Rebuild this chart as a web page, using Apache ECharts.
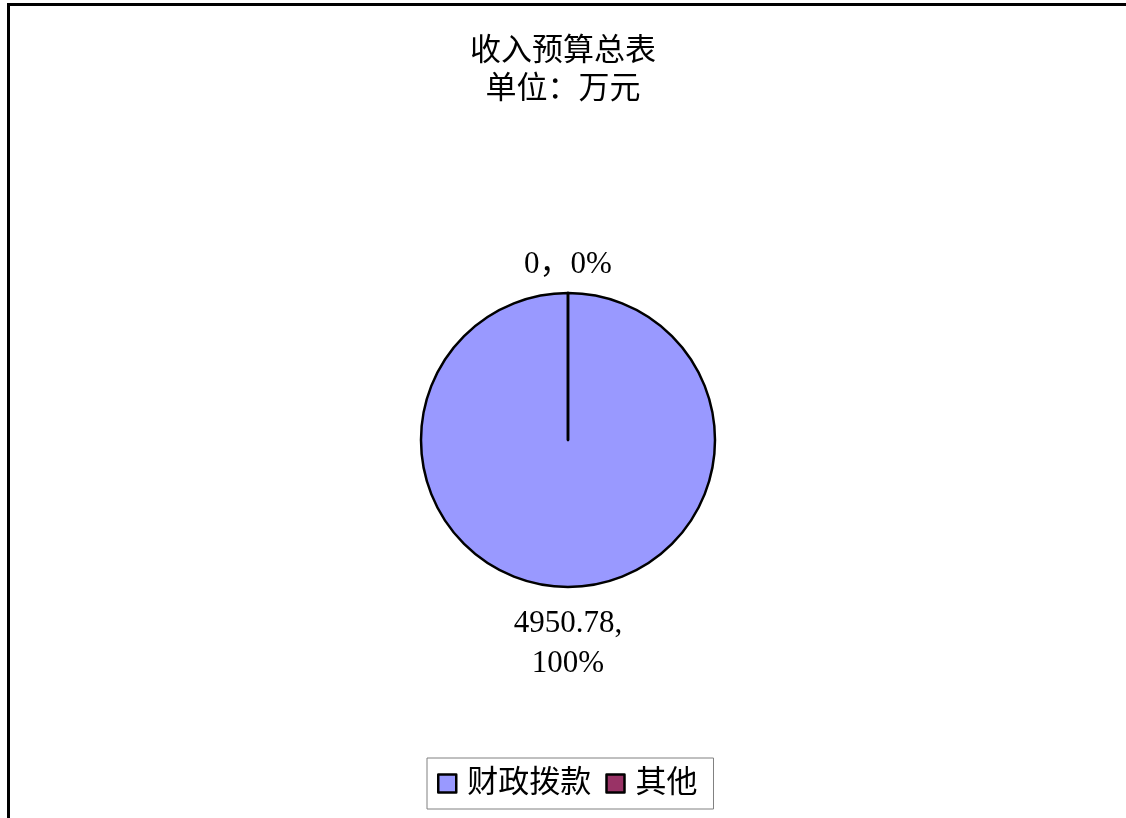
<!DOCTYPE html>
<html>
<head>
<meta charset="utf-8">
<script src="https://cdn.jsdelivr.net/npm/echarts@6/dist/echarts.min.js"></script>
<style>
html,body{margin:0;padding:0;background:#fff;}
#chart{width:1126px;height:818px;}
</style>
</head>
<body>
<div id="chart"></div>
<script>
var titleLines = ['收入预算总表', '单位：万元'];
var categories = ['财政拨款', '其他'];
var values = [4950.78, 0];
var colors = ['#9999FF', '#993366'];

var FONT = "'Liberation Serif', 'Noto Sans CJK SC', serif";

var chart = echarts.init(document.getElementById('chart'), null, {renderer: 'canvas'});

var pieData = categories.map(function (c, i) {
  return {name: c, value: values[i], itemStyle: {color: colors[i]}};
});

chart.setOption({
  backgroundColor: '#fff',
  animation: false,
  graphic: [{
    type: 'rect',
    silent: true,
    shape: {x: 8.5, y: 4.5, width: 1300, height: 1000},
    style: {fill: 'none', stroke: '#000', lineWidth: 3},
    z: 100
  }],
  title: {
    text: titleLines.join('\n'),
    left: 'center',
    top: 33,
    padding: 0,
    textStyle: {
      fontFamily: FONT, fontSize: 31, fontWeight: 'normal', color: '#000', lineHeight: 38
    }
  },
  legend: {
    data: categories,
    left: 427,
    top: 758,
    orient: 'horizontal',
    padding: [10, 16, 10, 10],
    itemWidth: 18,
    itemHeight: 18,
    itemGap: 14,
    borderColor: '#808080',
    borderWidth: 1,
    icon: 'rect',
    selectedMode: false,
    itemStyle: {borderColor: '#000', borderWidth: 2.5},
    textStyle: {
      fontFamily: FONT, fontSize: 31, color: '#000', lineHeight: 31, padding: [0, 0, 0, 6]
    }
  },
  series: [{
    type: 'pie',
    center: [568, 440],
    radius: 147,
    startAngle: 90,
    clockwise: true,
    minAngle: 0.01,
    avoidLabelOverlap: false,
    silent: true,
    itemStyle: {borderColor: '#000', borderWidth: 2.5},
    label: {
      show: true,
      position: 'outside',
      distanceToLabelLine: 0,
      fontFamily: FONT,
      fontSize: 31,
      color: '#000',
      lineHeight: 40,
      formatter: function (p) {
        var pct = Math.round(p.percent);
        if (p.dataIndex === 0) {
          return p.value + ',\n' + pct + '%';
        }
        return p.value + '，' + pct + '%';
      }
    },
    labelLine: {show: false, length: 0, length2: 0},
    labelLayout: function (params) {
      if (params.dataIndex === 0) {
        return {align: 'center', verticalAlign: 'middle', dy: 57};
      }
      return {align: 'center', verticalAlign: 'middle', dy: -28};
    },
    data: pieData
  }]
});
</script>
</body>
</html>
